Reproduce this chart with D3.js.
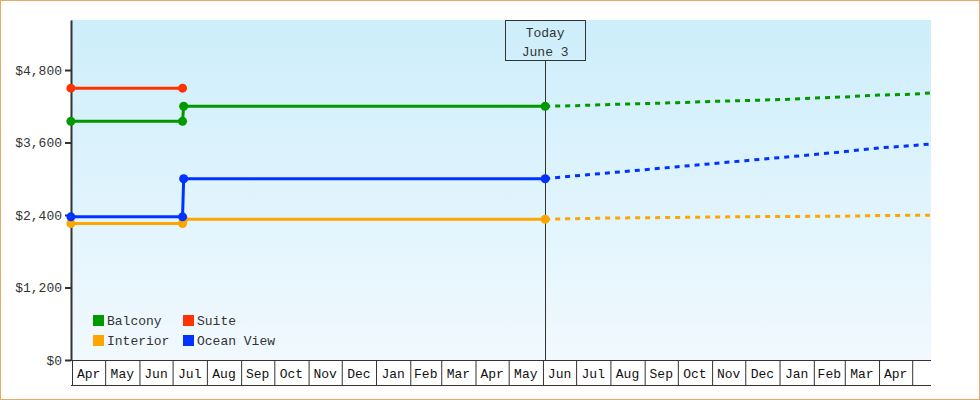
<!DOCTYPE html>
<html>
<head>
<meta charset="utf-8">
<script src="https://cdn.jsdelivr.net/npm/d3@7"></script>
<style>
  body { margin: 0; background: #fff; }
  text { font-family: "Liberation Mono", monospace; font-size: 13px; fill: #333; }
</style>
</head>
<body>
<script>
// historical fares
var histDates = ["2024-03-31", "2024-07-10", "2024-07-11", "2025-06-03"];
var balcony = [3950, 3950, 4200, 4200];
var suite = [4500, 4500];
var interior = [2260, 2260, 2330, 2330];
var oceanView = [2370, 2370, 3000, 3000];

// projected fares (dashed)
var projDates = ["2025-06-03", "2025-07-01", "2025-08-01", "2025-09-01", "2025-10-01", "2025-11-01",
  "2025-12-01", "2026-01-01", "2026-02-01", "2026-03-01", "2026-04-01", "2026-05-01", "2026-05-17"];
var balconyProj = [4200, 4210, 4230, 4245, 4260, 4280, 4295, 4310, 4335, 4355, 4385, 4400, 4420];
var interiorProj = [2330, 2340, 2350, 2355, 2360, 2367, 2372, 2375, 2378, 2380, 2392, 2395, 2396];
var oceanViewProj = [3000, 3050, 3100, 3150, 3200, 3250, 3300, 3350, 3400, 3450, 3510, 3550, 3575];

var yTicks = [0, 1200, 2400, 3600, 4800];
var monthLabels = ["Apr","May","Jun","Jul","Aug","Sep","Oct","Nov","Dec","Jan","Feb","Mar",
  "Apr","May","Jun","Jul","Aug","Sep","Oct","Nov","Dec","Jan","Feb","Mar","Apr"];
var legendNames = ["Balcony", "Suite", "Interior", "Ocean View"];
var colors = ["#009900", "#ff3300", "#ffa500", "#0033ff"];
var todayDate = "2025-06-03";
var todayLabel = ["Today", "June 3"];

var parse = d3.timeParse("%Y-%m-%d");
var width = 980, height = 400;

var svg = d3.select("body").append("svg")
  .attr("width", width)
  .attr("height", height);

var defs = svg.append("defs");
var grad = defs.append("linearGradient").attr("id", "bg")
  .attr("x1", 0).attr("y1", 0).attr("x2", 0).attr("y2", 1);
grad.append("stop").attr("offset", "0%").attr("stop-color", "#cdeefb");
grad.append("stop").attr("offset", "100%").attr("stop-color", "#f1f9fe");

svg.append("rect")
  .attr("x", 0.5).attr("y", 0.5)
  .attr("width", width - 1).attr("height", height - 1)
  .attr("fill", "#fff").attr("stroke", "#eba866");

var xscale = d3.scaleTime()
  .domain([parse("2024-04-01"), parse("2026-05-18")])
  .range([72, 931]);
var yscale = d3.scaleLinear()
  .domain([0, 5628])
  .range([360, 20]);

svg.append("rect")
  .attr("x", 71).attr("y", 20)
  .attr("width", 931 - 71).attr("height", 340)
  .attr("fill", "url(#bg)");

// month cells
var monthStarts = d3.timeMonth.range(parse("2024-04-01"), parse("2026-05-02"));
var xAxis = d3.axisBottom(xscale)
  .tickValues(monthStarts)
  .tickSizeInner(25)
  .tickSizeOuter(0)
  .tickFormat("");
var gx = svg.append("g")
  .attr("transform", "translate(0,360)")
  .call(xAxis);
gx.select(".domain").attr("stroke", "#333").attr("d", "M71,0.5H931");
gx.selectAll(".tick line").attr("stroke", "#333");
svg.append("line")
  .attr("x1", 71).attr("x2", 931)
  .attr("y1", 385.5).attr("y2", 385.5)
  .attr("stroke", "#333");
svg.append("g").selectAll("text")
  .data(monthLabels)
  .enter()
  .append("text")
  .attr("x", function(d, i) { return (xscale(monthStarts[i]) + xscale(monthStarts[i + 1])) / 2; })
  .attr("y", 378)
  .attr("text-anchor", "middle")
  .style("fill", "#111")
  .text(function(d) { return d; });

// y axis
var yAxis = d3.axisLeft(yscale)
  .tickValues(yTicks)
  .tickSizeInner(6)
  .tickSizeOuter(0)
  .tickPadding(3)
  .tickFormat(function(d) { return "$" + d3.format(",")(d); });
var gy = svg.append("g")
  .attr("transform", "translate(71,0)")
  .call(yAxis);
gy.select(".domain").attr("stroke", "#333").attr("stroke-width", 2);
gy.selectAll(".tick line").attr("stroke", "#333").attr("stroke-width", 2);
gy.selectAll(".tick text").style("font-family", "'Liberation Mono', monospace").style("font-size", "13px").style("fill", "#333");

// today marker
var tx = xscale(parse(todayDate));
svg.append("line")
  .attr("x1", Math.round(tx) + 0.5).attr("x2", Math.round(tx) + 0.5)
  .attr("y1", 60).attr("y2", 360)
  .attr("stroke", "#333");
svg.append("rect")
  .attr("x", Math.round(tx) - 40 + 0.5).attr("y", 20.5)
  .attr("width", 80).attr("height", 40)
  .attr("fill", "none").attr("stroke", "#333");
svg.append("g").selectAll("text")
  .data(todayLabel)
  .enter()
  .append("text")
  .attr("x", tx)
  .attr("y", function(d, i) { return 37 + i * 19; })
  .attr("text-anchor", "middle")
  .text(function(d) { return d; });

var line = d3.line()
  .x(function(d) { return xscale(d.date); })
  .y(function(d) { return yscale(d.value); });

function pair(dates, values) {
  return values.map(function(v, i) { return {date: parse(dates[i]), value: v}; });
}

var series = [
  {hist: pair(histDates, balcony), proj: pair(projDates, balconyProj), color: colors[0]},
  {hist: pair(histDates, suite), proj: null, color: colors[1]},
  {hist: pair(histDates, interior), proj: pair(projDates, interiorProj), color: colors[2]},
  {hist: pair(histDates, oceanView), proj: pair(projDates, oceanViewProj), color: colors[3]}
];

series.forEach(function(s) {
  var g = svg.append("g");
  if (s.proj) {
    g.append("path")
      .attr("d", line(s.proj))
      .attr("fill", "none")
      .attr("stroke", s.color)
      .attr("stroke-width", 3)
      .attr("stroke-dasharray", "5,5");
  }
  g.append("path")
    .attr("d", line(s.hist))
    .attr("fill", "none")
    .attr("stroke", s.color)
    .attr("stroke-width", 3);
  g.selectAll("circle")
    .data(s.hist)
    .enter()
    .append("circle")
    .attr("cx", function(d) { return xscale(d.date); })
    .attr("cy", function(d) { return yscale(d.value); })
    .attr("r", 4.5)
    .attr("fill", s.color);
});

// legend
var legend = svg.append("g").selectAll("g")
  .data(legendNames)
  .enter()
  .append("g")
  .attr("transform", function(d, i) { return "translate(" + (93 + (i % 2) * 90) + "," + (315 + Math.floor(i / 2) * 20) + ")"; });
legend.append("rect")
  .attr("width", 11).attr("height", 11)
  .attr("fill", function(d, i) { return colors[i]; });
legend.append("text")
  .attr("x", 14).attr("y", 10)
  .text(function(d) { return d; });
</script>
</body>
</html>
